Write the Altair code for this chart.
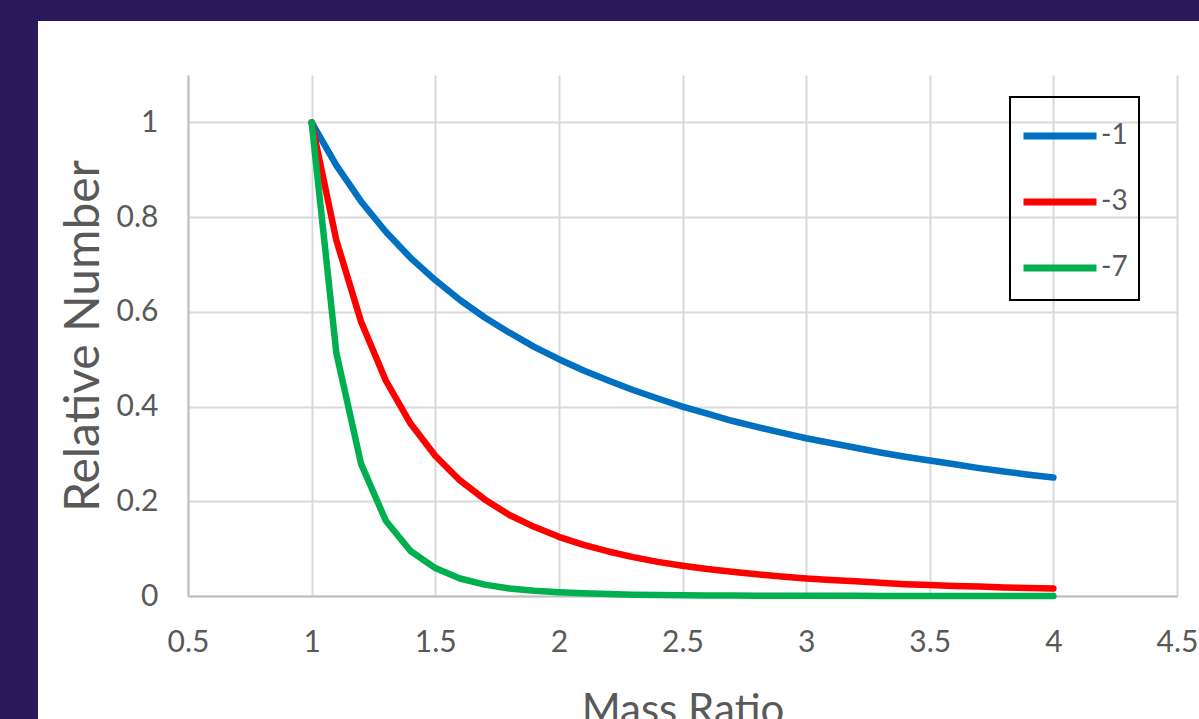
import altair as alt
import pandas as pd

mass_ratio = [1.0, 1.1, 1.2, 1.3, 1.4, 1.5, 1.6, 1.7, 1.8, 1.9, 2.0, 2.1, 2.2, 2.3, 2.4, 2.5,
              2.6, 2.7, 2.8, 2.9, 3.0, 3.1, 3.2, 3.3, 3.4, 3.5, 3.6, 3.7, 3.8, 3.9, 4.0]
series_m1 = [1.000, 0.909, 0.833, 0.769, 0.714, 0.667, 0.625, 0.588, 0.556, 0.526, 0.500,
             0.476, 0.455, 0.435, 0.417, 0.400, 0.385, 0.370, 0.357, 0.345, 0.333, 0.323,
             0.313, 0.303, 0.294, 0.286, 0.278, 0.270, 0.263, 0.256, 0.250]
series_m3 = [1.000, 0.751, 0.579, 0.455, 0.364, 0.296, 0.244, 0.204, 0.171, 0.146, 0.125,
             0.108, 0.094, 0.082, 0.072, 0.064, 0.057, 0.051, 0.046, 0.041, 0.037, 0.034,
             0.031, 0.028, 0.025, 0.023, 0.021, 0.020, 0.018, 0.017, 0.016]
series_m7 = [1.000, 0.513, 0.279, 0.159, 0.095, 0.059, 0.037, 0.024, 0.016, 0.011, 0.008,
             0.0056, 0.0040, 0.0029, 0.0022, 0.0016, 0.0012, 0.0010, 0.0007, 0.0006, 0.0005,
             0.0004, 0.0003, 0.0002, 0.0002, 0.0002, 0.0001, 0.0001, 0.0001, 0.0001, 0.0001]
series_names = ["-1", "-3", "-7"]
series_colors = ["#0070C0", "#FF0000", "#00B050"]
x_ticks = [0.5, 1, 1.5, 2, 2.5, 3, 3.5, 4, 4.5]
y_ticks = [0, 0.2, 0.4, 0.6, 0.8, 1]

rows = []
for name, vals in zip(series_names, [series_m1, series_m3, series_m7]):
    for i, (m, v) in enumerate(zip(mass_ratio, vals)):
        rows.append({"Mass Ratio": m, "Relative Number": v, "series": name, "order": i})
df = pd.DataFrame(rows)

FONT = "Lato"
TXT = "#595959"
PURPLE = "#2A195A"

W, H = 989, 521
PL, PT, PR, PB = 188, 75, 22, 123

lines = alt.Chart(df).mark_line(strokeWidth=6.5, strokeCap="round", strokeJoin="round").encode(
    x=alt.X("Mass Ratio:Q",
            scale=alt.Scale(domain=[0.5, 4.5], nice=False, zero=False),
            axis=alt.Axis(values=x_ticks, format="~g", title="Mass Ratio",
                          labelFontSize=30, titleFontSize=42, titleFontWeight="normal",
                          labelPadding=31, titlePadding=33, tickSize=0, labelFlush=False,
                          labelColor=TXT, titleColor=TXT, labelFont=FONT, titleFont=FONT,
                          grid=True, gridColor="#D9D9D9", gridWidth=2,
                          domainColor="#BFBFBF", domainWidth=2)),
    y=alt.Y("Relative Number:Q",
            scale=alt.Scale(domain=[0, 1.1], nice=False),
            axis=alt.Axis(values=y_ticks, format="~g", title="Relative Number",
                          labelFontSize=30, titleFontSize=48, titleFontWeight="normal",
                          labelPadding=30, titlePadding=8, tickSize=0, labelFlush=False,
                          labelColor=TXT, titleColor=TXT, labelFont=FONT, titleFont=FONT,
                          grid=True, gridColor="#D9D9D9", gridWidth=2,
                          domainColor="#BFBFBF", domainWidth=2)),
    color=alt.Color("series:N",
                    scale=alt.Scale(domain=series_names, range=series_colors),
                    legend=alt.Legend(title=None, orient="none", legendX=832, legendY=21,
                                      symbolType="stroke", symbolSize=5329, symbolStrokeWidth=7,
                                      labelFontSize=28, labelFont=FONT, labelColor=TXT,
                                      labelOffset=1, rowPadding=12, padding=0)),
    order="order:Q",
)

frame = alt.Data(values=[{"k": 0}])
top_strip = alt.Chart(frame).mark_rect(color=PURPLE).encode(
    x=alt.value(-PL), x2=alt.value(W + PR), y=alt.value(-PT), y2=alt.value(21 - PT))
left_strip = alt.Chart(frame).mark_rect(color=PURPLE).encode(
    x=alt.value(-PL), x2=alt.value(38 - PL), y=alt.value(-PT), y2=alt.value(H + PB))
legend_box = alt.Chart(frame).mark_rect(filled=False, stroke="#000000", strokeWidth=2).encode(
    x=alt.value(1010 - PL), x2=alt.value(1139 - PL), y=alt.value(97 - PT), y2=alt.value(300 - PT))

chart = alt.layer(lines, legend_box, top_strip, left_strip).properties(
    width=W, height=H,
    padding={"left": PL, "top": PT, "right": PR, "bottom": PB},
    autosize=alt.AutoSizeParams(type="none"),
    background="#FFFFFF",
).configure_view(stroke=None)

chart.save("out.html", embed_options={"renderer": "svg", "actions": False})
